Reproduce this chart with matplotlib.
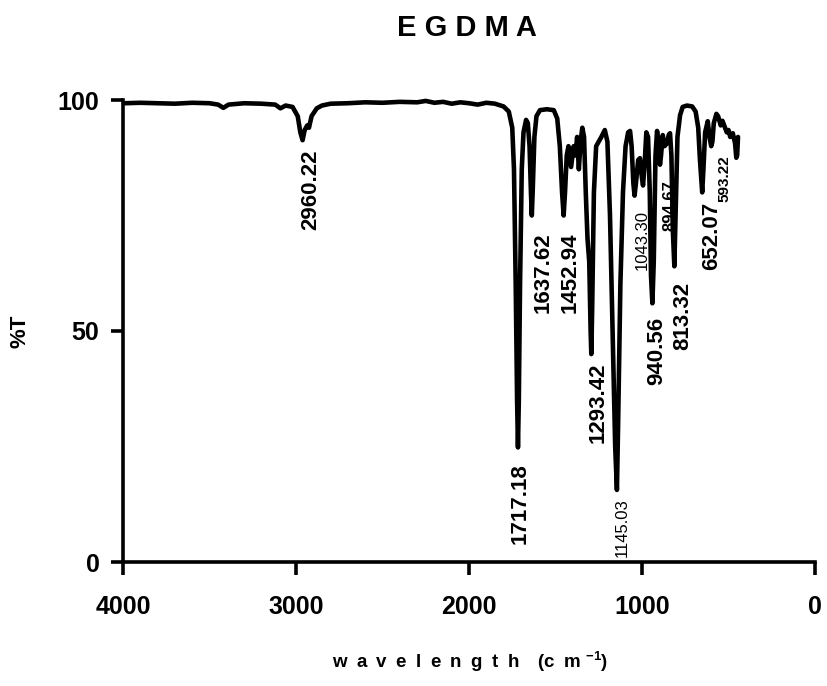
import matplotlib
matplotlib.use("Agg")
import matplotlib.pyplot as plt

# spectrum: wavenumber (cm-1) and %T
wavenumber = [3990, 3900, 3800, 3700, 3600, 3500, 3450, 3420, 3390, 3300,
              3200, 3120, 3090, 3060, 3020, 2990, 2975, 2962, 2950, 2935,
              2925, 2910, 2880, 2850, 2800, 2700, 2600, 2500, 2400, 2300,
              2250, 2200, 2150, 2100, 2050, 2000, 1950, 1900, 1850, 1800,
              1770, 1750, 1740, 1730, 1722, 1717, 1712, 1705, 1695, 1685,
              1670, 1660, 1650, 1642, 1637, 1632, 1622, 1610, 1590, 1550,
              1510, 1490, 1475, 1462, 1453, 1445, 1435, 1425, 1410, 1395,
              1385, 1375, 1365, 1355, 1345, 1335, 1325, 1315, 1305, 1297,
              1293, 1288, 1278, 1265, 1250, 1235, 1215, 1200, 1185, 1170,
              1155, 1145, 1138, 1125, 1110, 1095, 1080, 1069, 1060, 1050,
              1043, 1035, 1022, 1012, 1000, 994, 985, 975, 965, 955,
              948, 940, 932, 922, 913, 905, 896, 890, 880, 870,
              856, 845, 838, 830, 822, 813, 806, 795, 780, 765,
              740, 710, 690, 675, 665, 652, 645, 635, 620, 610,
              600, 593, 585, 570, 560, 545, 535, 520, 510, 500,
              490, 475, 462, 455, 450, 445]
transmittance = [99.3, 99.4, 99.3, 99.2, 99.4, 99.3, 99.0, 98.3, 99.0, 99.3,
                 99.2, 99.0, 98.2, 98.8, 98.5, 96.5, 93.0, 91.3, 93.5, 94.5,
                 94.0, 96.5, 98.2, 98.8, 99.2, 99.3, 99.5, 99.4, 99.6, 99.5,
                 99.8, 99.4, 99.6, 99.2, 99.5, 99.3, 99.0, 99.4, 99.2, 98.6,
                 97.5, 94.0, 85.0, 60.0, 35.0, 24.8, 35.0, 60.0, 85.0, 93.0,
                 95.7, 95.0, 90.0, 80.0, 75.0, 80.0, 92.0, 96.5, 97.8, 98.0,
                 97.8, 96.0, 90.0, 80.0, 75.0, 80.0, 88.0, 90.0, 85.5, 90.0,
                 88.0, 92.0, 85.0, 91.0, 94.0, 92.0, 80.0, 70.0, 65.0, 50.0,
                 45.0, 55.0, 80.0, 90.0, 91.0, 92.0, 93.5, 91.0, 75.0, 50.0,
                 25.0, 15.6, 30.0, 60.0, 80.0, 90.0, 93.0, 93.3, 90.0, 82.0,
                 79.3, 82.0, 87.0, 87.4, 83.0, 81.5, 86.0, 93.0, 92.0, 80.0,
                 62.0, 56.0, 65.0, 88.0, 93.3, 91.0, 86.0, 88.0, 92.4, 90.0,
                 90.6, 92.5, 92.8, 88.0, 72.0, 64.0, 75.0, 92.0, 96.7, 98.5,
                 98.8, 98.6, 97.5, 94.0, 87.0, 80.0, 85.0, 93.0, 95.4, 92.0,
                 90.0, 91.0, 95.0, 97.0, 96.5, 94.5, 95.5, 94.0, 93.0, 93.5,
                 92.0, 92.8, 90.6, 87.5, 88.0, 92.0]

# peak labels
peak_text = ["2960.22", "1717.18", "1637.62", "1452.94", "1293.42", "1145.03",
             "1043.30", "940.56", "894.67", "813.32", "652.07", "593.22"]
peak_label_x = [2913, 1705, 1572, 1416, 1254, 1116, 1000, 913, 838, 763, 595, 526]
peak_label_top = [89.2, 21.4, 71.4, 71.4, 43.1, 13.9, 76.2, 53.0, 82.7, 60.6, 77.9, 88.1]
peak_size = [16, 16, 16, 16, 16, 12, 12, 16, 12, 16, 16, 11]
peak_weight = ["bold", "bold", "bold", "bold", "bold", "normal",
               "normal", "bold", "bold", "bold", "bold", "bold"]

x_ticks = [4000, 3000, 2000, 1000, 0]
y_ticks = [0, 50, 100]

fonts = ["Liberation Sans", "DejaVu Sans"]
plt.rcParams["font.family"] = fonts
plt.rcParams["font.weight"] = "bold"
plt.rcParams["mathtext.fontset"] = "custom"
plt.rcParams["mathtext.rm"] = "Liberation Sans:bold"
plt.rcParams["mathtext.default"] = "rm"

fig = plt.figure(figsize=(8.27, 6.86), dpi=100)
ax = fig.add_axes([123 / 827, 124 / 686, 692 / 827, 462 / 686])

ax.plot(wavenumber, transmittance, color="black", linewidth=3.3,
        solid_joinstyle="round", solid_capstyle="round", clip_on=False)

for txt, lx, ly, fs, fw in zip(peak_text, peak_label_x, peak_label_top, peak_size, peak_weight):
    ax.text(lx, ly, txt, rotation=90, ha="center", va="top",
            fontsize=fs, fontweight=fw)

ax.set_xlim(4000, 0)
ax.set_ylim(0, 100)
ax.set_xticks(x_ticks)
ax.set_yticks(y_ticks)
ax.tick_params(axis="both", width=2.6, length=9, labelsize=18)
ax.tick_params(axis="x", pad=15)
ax.tick_params(axis="y", pad=8)
for lab in ax.get_xticklabels() + ax.get_yticklabels():
    lab.set_fontweight("bold")

for side in ["top", "right"]:
    ax.spines[side].set_visible(False)
for side in ["left", "bottom"]:
    ax.spines[side].set_linewidth(2.6)

fig.text(467 / 827, 1 - 28 / 686, "E G D M A", fontsize=21, fontweight="bold",
         ha="center", va="center")
sp = "\u2002"
ax.set_xlabel(sp.join("wavelength") + sp + sp + "(c" + sp + "m $^{-1}$)",
              fontsize=13.5, fontweight="bold")
ax.xaxis.set_label_coords(0.501, -0.19)
ax.set_ylabel("%T", fontsize=16, fontweight="bold")
ax.yaxis.set_label_coords(-0.134, 0.5)

fig.savefig("out.png", dpi=100)
